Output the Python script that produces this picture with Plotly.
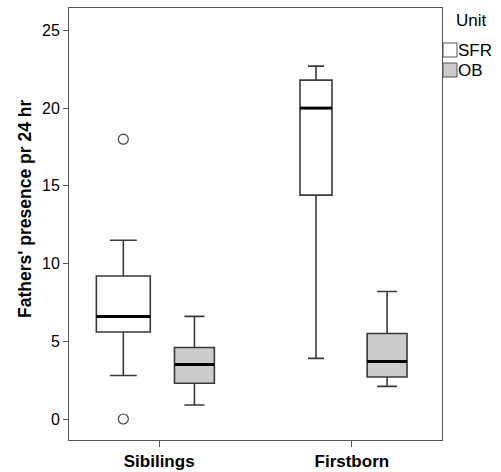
import plotly.graph_objects as go

# ---- data ----
categories = ["Sibilings", "Firstborn"]
units = ["SFR", "OB"]

lower_fence = {"SFR": [2.8, 3.9], "OB": [0.9, 2.1]}
q1 = {"SFR": [5.6, 14.4], "OB": [2.3, 2.7]}
median = {"SFR": [6.6, 20.0], "OB": [3.5, 3.7]}
q3 = {"SFR": [9.2, 21.8], "OB": [4.6, 5.5]}
upper_fence = {"SFR": [11.5, 22.7], "OB": [6.6, 8.2]}
# relative box widths (SPSS scales by sample size)
box_width = {"SFR": [0.28, 0.166], "OB": [0.207, 0.207]}
outlier_cat = ["Sibilings", "Sibilings"]
outlier_unit = ["SFR", "SFR"]
outlier_val = [18.0, 0.0]

y_ticks = [0, 5, 10, 15, 20, 25]
legend_title = "Unit"
y_title = "Fathers' presence pr 24 hr"

# ---- style ----
fills = {"SFR": "#ffffff", "OB": "#cccccc"}
offsets = {"SFR": -0.186, "OB": 0.183}
line_col = "#3a3a3a"
frame_col = "#555555"
font_family = "Liberation Sans, Arial, sans-serif"

fig = go.Figure()
cat_pos = {c: i + 1 for i, c in enumerate(categories)}

for u in units:
    for i, c in enumerate(categories):
        pos = cat_pos[c] + offsets[u]
        fig.add_trace(go.Box(
            x=[pos],
            q1=[q1[u][i]], median=[median[u][i]], q3=[q3[u][i]],
            lowerfence=[lower_fence[u][i]], upperfence=[upper_fence[u][i]],
            width=box_width[u][i],
            whiskerwidth=0.5,
            fillcolor=fills[u],
            line=dict(color=line_col, width=1.6),
            boxpoints=False,
            name=u,
            showlegend=False,
            hoverinfo="skip",
        ))
        # thicker median line
        half = box_width[u][i] / 2
        fig.add_trace(go.Scatter(
            x=[pos - half, pos + half], y=[median[u][i]] * 2,
            mode="lines", line=dict(color="#000000", width=3),
            showlegend=False, hoverinfo="skip",
        ))

fig.add_trace(go.Scatter(
    x=[cat_pos[c] + offsets[u] for c, u in zip(outlier_cat, outlier_unit)],
    y=outlier_val,
    mode="markers",
    marker=dict(symbol="circle-open", size=10, color="#444444", line=dict(width=1.2)),
    showlegend=False, hoverinfo="skip",
))

# ---- legend (swatches + labels placed at the right of the frame) ----
annotations = [dict(
    text=legend_title, xref="paper", yref="paper", x=1, y=1,
    xanchor="center", yanchor="middle", xshift=29, yshift=-12,
    showarrow=False, font=dict(size=17),
)]
shapes = []
for k, u in enumerate(units):
    top = -35 - 20 * k
    shapes.append(dict(
        type="rect", xref="paper", yref="paper",
        xsizemode="pixel", ysizemode="pixel", xanchor=1, yanchor=1,
        x0=1, x1=15, y0=top - 14, y1=top,
        fillcolor=fills[u], line=dict(color=frame_col, width=1),
    ))
    annotations.append(dict(
        text=u, xref="paper", yref="paper", x=1, y=1,
        xanchor="left", yanchor="middle", xshift=14, yshift=top - 7,
        showarrow=False, font=dict(size=17),
    ))

# y-axis title
annotations.append(dict(
    text="<b>%s</b>" % y_title, xref="paper", yref="paper",
    x=0, y=0.535, xanchor="center", yanchor="middle", xshift=-44,
    textangle=-90, showarrow=False, font=dict(size=17.5),
))

fig.update_layout(
    width=501, height=472,
    margin=dict(l=69, r=59, t=8, b=32, autoexpand=False),
    paper_bgcolor="white", plot_bgcolor="white",
    font=dict(family=font_family, size=14, color="#000000"),
    showlegend=False,
    annotations=annotations,
    shapes=shapes,
    xaxis=dict(
        range=[0.532, 2.468], automargin=False,
        tickmode="array", tickvals=[cat_pos[c] for c in categories],
        ticktext=["<b>%s</b>" % c for c in categories],
        ticks="outside", ticklen=6, tickcolor=frame_col,
        showline=True, linecolor=frame_col, linewidth=1, mirror=True,
        showgrid=False, zeroline=False,
        tickfont=dict(size=17),
    ),
    yaxis=dict(
        range=[-1.35, 26.44], automargin=False,
        tickmode="array", tickvals=y_ticks,
        ticks="outside", ticklen=5, tickcolor=frame_col,
        showline=True, linecolor=frame_col, linewidth=1, mirror=True,
        showgrid=False, zeroline=False,
        tickfont=dict(size=16),
    ),
)

fig.write_html("out.html")
